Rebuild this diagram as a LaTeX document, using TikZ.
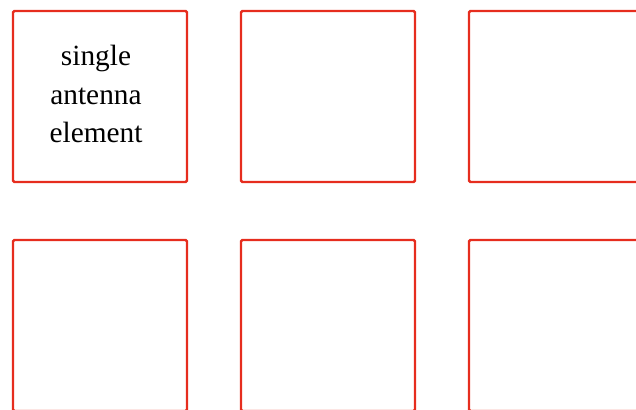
\documentclass[tikz,border=0pt]{standalone}
\usepackage{fontspec}
\setmainfont{Liberation Serif}
\usetikzlibrary{positioning}
\definecolor{elemred}{RGB}{230,45,30}

\begin{document}
\begin{tikzpicture}[x=0.75pt, y=-0.75pt, elem/.style={draw=elemred, line width=1.8pt, rounded corners=1pt, minimum width=130.5pt, minimum height=128.25pt, inner sep=0pt, align=center, font=\fontsize{22}{29}\selectfont}]
  \useasboundingbox (0,0) rectangle (636,410);
  \clip (0,0) rectangle (636,410);
  \node[elem] (e11) at (100,96.5) {\raisebox{4pt}{\begin{tabular}{@{}c@{}}single\\antenna\\element\end{tabular}}\hspace{6pt}};
  \node[elem, right=38.7pt of e11] (e12) {};
  \node[elem, right=38.7pt of e12] (e13) {};
  \node[elem, below=41.7pt of e11] (e21) {};
  \node[elem, right=38.7pt of e21] (e22) {};
  \node[elem, right=38.7pt of e22] (e23) {};
\end{tikzpicture}
\end{document}
